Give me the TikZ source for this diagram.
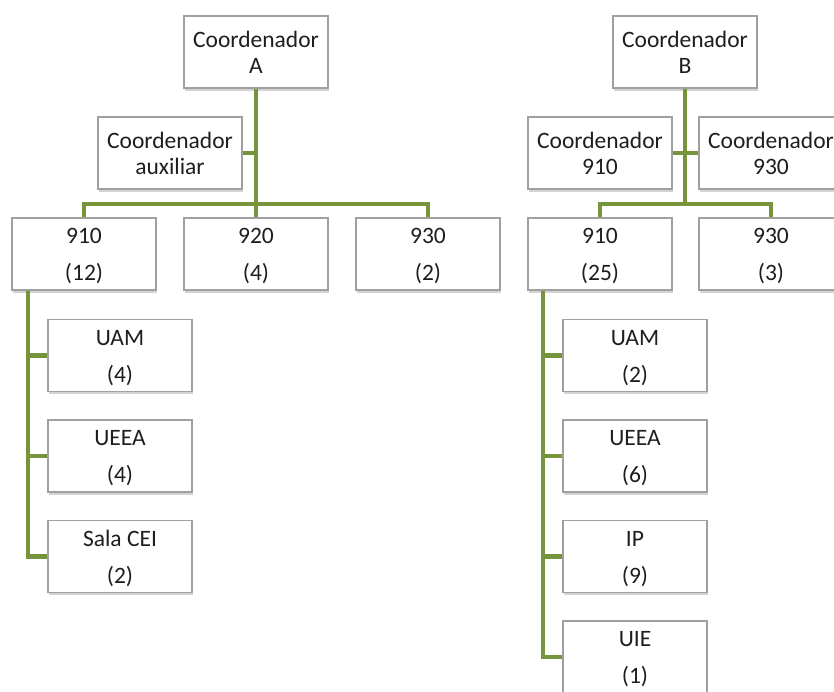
\documentclass[tikz,border=0pt]{standalone}
\usepackage{fontspec}
\setmainfont{Carlito}
\usetikzlibrary{shadows}
\definecolor{lineg}{RGB}{118,148,58}
\definecolor{boxb}{RGB}{160,160,160}
\definecolor{txt}{RGB}{30,30,30}
\tikzset{
  x=1pt, y=-1pt,
  box/.style={draw=boxb, line width=1.1pt, fill=white, minimum width=144pt, minimum height=72pt,
    inner sep=0pt, align=center, text=txt, font=\fontsize{23.5}{26}\selectfont,
    drop shadow={opacity=0.35, shadow xshift=1pt, shadow yshift=-2.5pt}},
  vbox/.style={box, font=\fontsize{23.5}{37}\selectfont, text height=58pt, text depth=5pt},
  conn/.style={draw=lineg, line width=4.5pt}
}
\begin{document}
\begin{tikzpicture}
\useasboundingbox (0,0) rectangle (834,691);
% left tree
\node[box] (cA) at (256,52) {Coordenador\\A};
\node[box] (aux) at (170,153) {Coordenador\\auxiliar};
\node[vbox] (a910) at (84,254) {910\\(12)};
\node[vbox] (a920) at (256,254) {920\\(4)};
\node[vbox] (a930) at (428,254) {930\\(2)};
\node[vbox] (auam) at (120,355.5) {UAM\\(4)};
\node[vbox] (aueea) at (120,456) {UEEA\\(4)};
\node[vbox] (asala) at (120,556.5) {Sala CEI\\(2)};
% right tree
\node[box] (cB) at (685,52) {Coordenador\\B};
\node[box] (c910) at (600,153) {Coordenador\\910};
\node[box] (c930) at (771,153) {Coordenador\\930};
\node[vbox] (b910) at (600,254) {910\\(25)};
\node[vbox] (b930) at (771,254) {930\\(3)};
\node[vbox] (buam) at (635,355.5) {UAM\\(2)};
\node[vbox] (bueea) at (635,456) {UEEA\\(6)};
\node[vbox] (bip) at (635,556.5) {IP\\(9)};
\node[vbox] (buie) at (635,657) {UIE\\(1)};
% coordinates
\coordinate (busA) at (256,204);
\coordinate (vA) at ([xshift=-56pt]a910.south);
\coordinate (busB) at (685,204);
\coordinate (vB) at ([xshift=-57pt]b910.south);
% connectors
\draw[conn] (cA.south) -- (busA);
\draw[conn] (aux.east) -- (aux.east -| busA);
\draw[conn] (a910.north) |- (busA) -| (a930.north);
\draw[conn] (busA) -- (a920.north);
\draw[conn] (vA) |- (asala.west);
\draw[conn] (auam.west) -- (auam.west -| vA);
\draw[conn] (aueea.west) -- (aueea.west -| vA);
\draw[conn] (cB.south) -- (busB);
\draw[conn] (c910.east) -- (c930.west);
\draw[conn] (b910.north) |- (busB) -| (b930.north);
\draw[conn] (vB) |- (buie.west);
\draw[conn] (buam.west) -- (buam.west -| vB);
\draw[conn] (bueea.west) -- (bueea.west -| vB);
\draw[conn] (bip.west) -- (bip.west -| vB);
\end{tikzpicture}
\end{document}
